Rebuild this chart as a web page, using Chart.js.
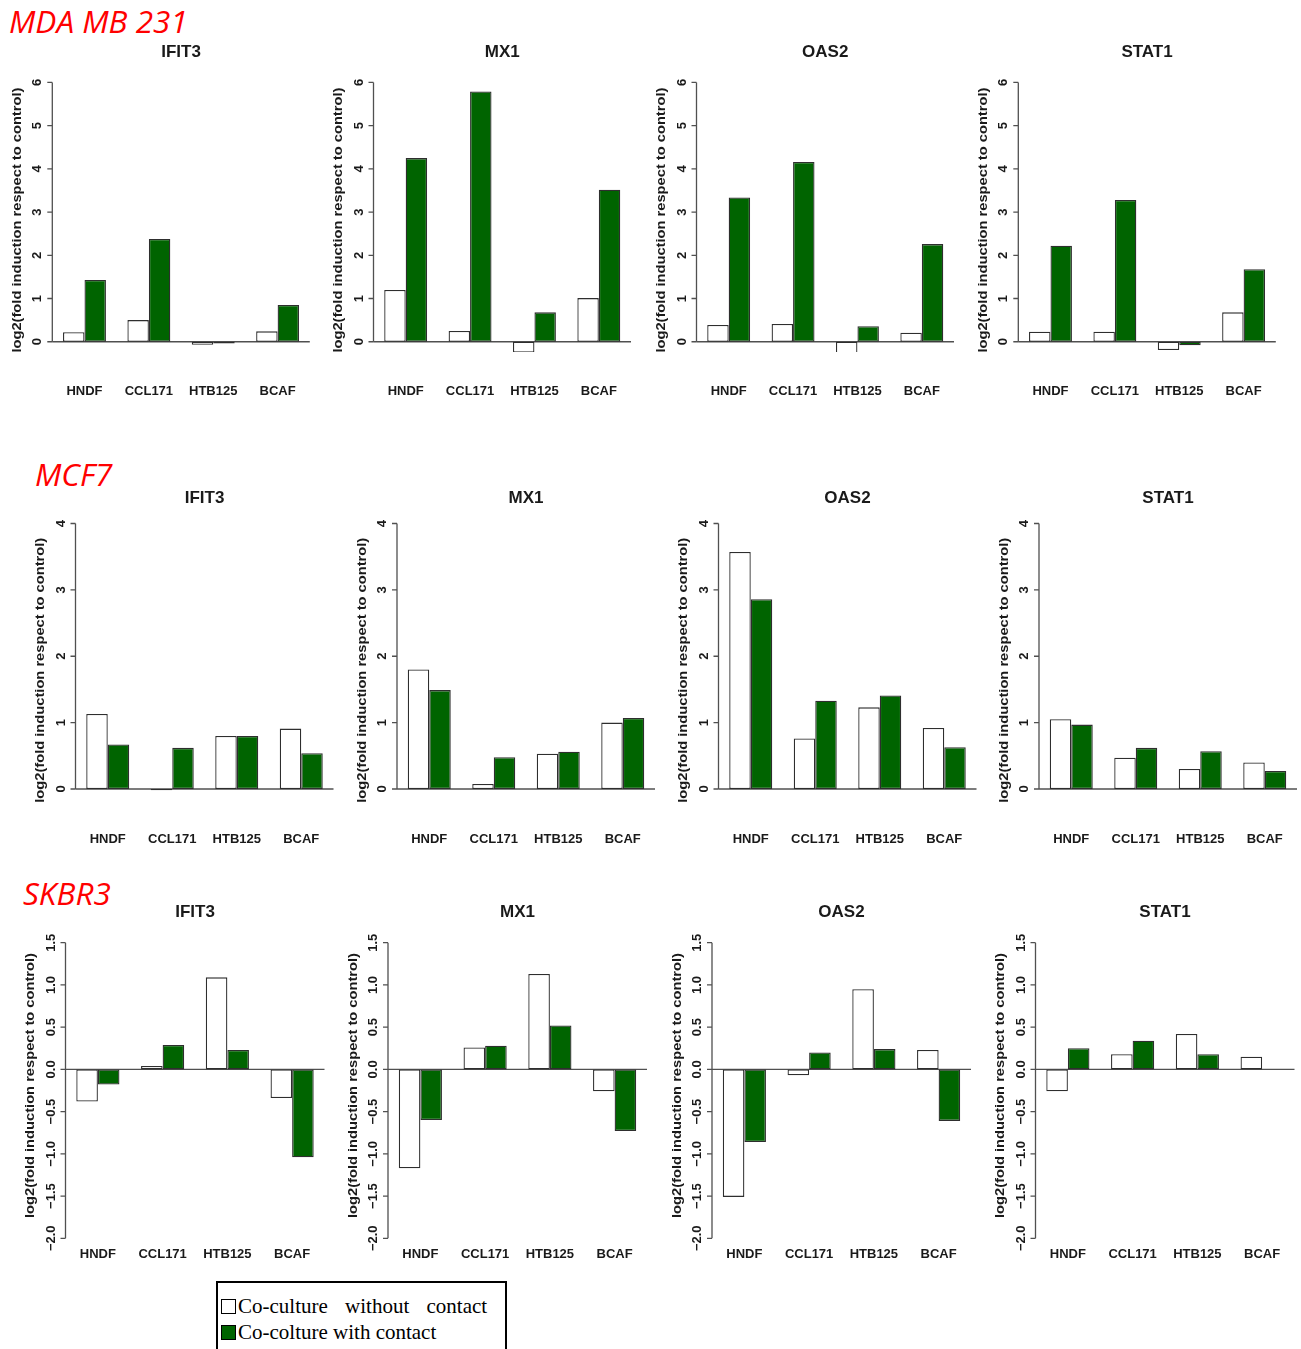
<!DOCTYPE html>
<html>
<head>
<meta charset="utf-8">
<title>Interferon-stimulated gene induction in breast cancer cell lines</title>
<script src="https://cdn.jsdelivr.net/npm/chart.js@4.4.1/dist/chart.umd.min.js"></script>
<style>
  html, body { margin: 0; padding: 0; background: #ffffff; }
  body { width: 1301px; height: 1349px; position: relative; overflow: hidden; }
  canvas { position: absolute; }
  .cell-line {
    position: absolute; white-space: nowrap; color: #ff0000;
    font-family: "Open Sans", sans-serif; font-style: italic;
    font-size: 31.5px; line-height: 31.5px;
  }
  #legend-box {
    position: absolute; left: 216px; top: 1281px; width: 291px; height: 120px;
    border: 2px solid #000; box-sizing: border-box;
  }
  .swatch { position: absolute; width: 15px; height: 15px; box-sizing: border-box; border: 1.5px solid #000; }
  .leg-text {
    position: absolute; white-space: pre; color: #000;
    font-family: "Liberation Serif", "Times New Roman", serif;
    font-size: 21px; line-height: 21px;
  }
</style>
</head>
<body>
<div class="cell-line" style="left:9px; top:5px;">MDA MB 231</div>
<div class="cell-line" style="left:35px; top:458px;">MCF7</div>
<div class="cell-line" style="left:23px; top:877px;">SKBR3</div>

<div id="legend-box"></div>
<div class="swatch" style="left:221px; top:1299px; background:#ffffff;"></div>
<div class="swatch" style="left:221px; top:1325px; background:#006400;"></div>
<div class="leg-text" id="leg0" style="left:238px; top:1295.7px; word-spacing:12px;"></div>
<div class="leg-text" id="leg1" style="left:238px; top:1322.4px;"></div>

<script>
// ---- categories and labels ----
const categories = ['HNDF', 'CCL171', 'HTB125', 'BCAF'];
const genes = ['IFIT3', 'MX1', 'OAS2', 'STAT1'];
const cellLines = ['MDA MB 231', 'MCF7', 'SKBR3'];
const seriesNames = ['Co-culture without contact', 'Co-colture with contact'];
const yAxisTitle = 'log2(fold induction respect to control)';

// ---- MDA MB 231: log2 fold induction ----
const mdaIFIT3Without = [0.22, 0.50, -0.07, 0.24];
const mdaIFIT3With    = [1.43, 2.38, -0.04, 0.85];
const mdaMX1Without   = [1.20, 0.25, -0.25, 1.01];
const mdaMX1With      = [4.25, 5.79, 0.68, 3.52];
const mdaOAS2Without  = [0.39, 0.41, -0.27, 0.21];
const mdaOAS2With     = [3.34, 4.16, 0.36, 2.26];
const mdaSTAT1Without = [0.23, 0.23, -0.19, 0.68];
const mdaSTAT1With    = [2.22, 3.28, -0.08, 1.68];

// ---- MCF7 ----
const mcf7IFIT3Without = [1.13, -0.02, 0.80, 0.91];
const mcf7IFIT3With    = [0.67, 0.62, 0.80, 0.54];
const mcf7MX1Without   = [1.80, 0.075, 0.53, 1.00];
const mcf7MX1With      = [1.49, 0.48, 0.56, 1.07];
const mcf7OAS2Without  = [3.57, 0.76, 1.23, 0.92];
const mcf7OAS2With     = [2.86, 1.33, 1.41, 0.63];
const mcf7STAT1Without = [1.05, 0.47, 0.30, 0.40];
const mcf7STAT1With    = [0.97, 0.62, 0.57, 0.27];

// ---- SKBR3 ----
const skbr3IFIT3Without = [-0.38, 0.04, 1.09, -0.34];
const skbr3IFIT3With    = [-0.18, 0.29, 0.23, -1.04];
const skbr3MX1Without   = [-1.17, 0.26, 1.13, -0.26];
const skbr3MX1With      = [-0.60, 0.28, 0.52, -0.73];
const skbr3OAS2Without  = [-1.51, -0.07, 0.95, 0.23];
const skbr3OAS2With     = [-0.86, 0.20, 0.24, -0.61];
const skbr3STAT1Without = [-0.26, 0.18, 0.42, 0.15];
const skbr3STAT1With    = [0.25, 0.34, 0.18, 0.00];

// ---- y axis ticks ----
const ticksMDA = [0, 1, 2, 3, 4, 5, 6];
const tickLabelsMDA = ['0', '1', '2', '3', '4', '5', '6'];
const ticksMCF7 = [0, 1, 2, 3, 4];
const tickLabelsMCF7 = ['0', '1', '2', '3', '4'];
const ticksSKBR3 = [-2.0, -1.5, -1.0, -0.5, 0.0, 0.5, 1.0, 1.5];
const tickLabelsSKBR3 = ['\u22122.0', '\u22121.5', '\u22121.0', '\u22120.5', '0.0', '0.5', '1.0', '1.5'];

// ---- grouping of the series per row ----
const rowSeries = [
  { without: [mdaIFIT3Without, mdaMX1Without, mdaOAS2Without, mdaSTAT1Without],
    with:    [mdaIFIT3With, mdaMX1With, mdaOAS2With, mdaSTAT1With],
    ticks: ticksMDA, tickLabels: tickLabelsMDA },
  { without: [mcf7IFIT3Without, mcf7MX1Without, mcf7OAS2Without, mcf7STAT1Without],
    with:    [mcf7IFIT3With, mcf7MX1With, mcf7OAS2With, mcf7STAT1With],
    ticks: ticksMCF7, tickLabels: tickLabelsMCF7 },
  { without: [skbr3IFIT3Without, skbr3MX1Without, skbr3OAS2Without, skbr3STAT1Without],
    with:    [skbr3IFIT3With, skbr3MX1With, skbr3OAS2With, skbr3STAT1With],
    ticks: ticksSKBR3, tickLabels: tickLabelsSKBR3 }
];

// ---- page geometry for each row of panels (pixels) ----
const rowGeometry = [
  { axisX: [52.3, 373.5, 696.5, 1018.3], plotW: 257.5, plotTop: 72.1, plotBottom: 352.1,
    yPad: 0.24, titleBase: 57.3, catBase: 395, yTitleDy: 8, canvasTop: 35, canvasBottom: 402 },
  { axisX: [75.5, 397, 718.5, 1039], plotW: 258, plotTop: 512.9, plotBottom: 799.6,
    yPad: 0.16, titleBase: 503.3, catBase: 842.7, yTitleDy: 14, canvasTop: 481, canvasBottom: 850 },
  { axisX: [65.5, 388, 712, 1035.5], plotW: 259, plotTop: 930.9, plotBottom: 1250.1,
    yPad: 0.14, titleBase: 916.7, catBase: 1258.3, yTitleDy: -5, canvasTop: 894, canvasBottom: 1266 }
];

const FONT = '"Liberation Sans", Arial, sans-serif';
const AXIS_COLOR = '#505050';
const TEXT_COLOR = '#1a1a1a';
const Y_TITLE_LENGTH = 265;

// Draws R-style axes: zero line, y axis spanning the tick range, rotated tick labels,
// rotated axis title, panel title and category names.
const panelDecor = {
  id: 'panelDecor',
  beforeDatasetsDraw(chart, args, o) {
    const { ctx, chartArea: a, scales: { y } } = chart;
    const y0 = y.getPixelForValue(0);
    ctx.save();
    ctx.strokeStyle = AXIS_COLOR;
    ctx.lineWidth = 1.3;
    ctx.beginPath();
    ctx.moveTo(a.left, y0);
    ctx.lineTo(a.right, y0);
    ctx.stroke();
    ctx.restore();
  },
  afterDraw(chart, args, o) {
    const { ctx, chartArea: a, scales: { x, y } } = chart;
    const t = o.ticks;
    const ax = a.left;
    ctx.save();
    ctx.strokeStyle = AXIS_COLOR;
    ctx.lineWidth = 1.3;
    ctx.beginPath();
    ctx.moveTo(ax, y.getPixelForValue(t[0]));
    ctx.lineTo(ax, y.getPixelForValue(t[t.length - 1]));
    t.forEach(v => {
      const py = y.getPixelForValue(v);
      ctx.moveTo(ax, py);
      ctx.lineTo(ax - 5, py);
    });
    ctx.stroke();

    ctx.fillStyle = TEXT_COLOR;
    ctx.textAlign = 'center';
    ctx.textBaseline = 'middle';
    ctx.font = 'bold 13px ' + FONT;
    t.forEach((v, i) => {
      ctx.save();
      ctx.translate(ax - 14.5, y.getPixelForValue(v));
      ctx.rotate(-Math.PI / 2);
      ctx.fillText(o.tickLabels[i], 0, 0);
      ctx.restore();
    });

    ctx.font = 'bold 13.5px ' + FONT;
    const w = ctx.measureText(o.yTitle).width;
    ctx.save();
    ctx.translate(ax - 35, (a.top + a.bottom) / 2 + o.yTitleDy);
    ctx.rotate(-Math.PI / 2);
    ctx.scale(Y_TITLE_LENGTH / w, 1);
    ctx.fillText(o.yTitle, 0, 0);
    ctx.restore();

    ctx.textBaseline = 'alphabetic';
    ctx.font = 'bold 17px ' + FONT;
    ctx.fillText(o.title, (a.left + a.right) / 2, o.titleBase);

    ctx.font = 'bold 13px ' + FONT;
    chart.data.labels.forEach((lab, i) => {
      ctx.fillText(lab, x.getPixelForValue(i), o.catBase);
    });
    ctx.restore();
  }
};

rowSeries.forEach((rs, r) => {
  const g = rowGeometry[r];
  const yMin = rs.ticks[0] - g.yPad;
  const yMax = rs.ticks[rs.ticks.length - 1] + g.yPad;
  genes.forEach((gene, c) => {
    const left = Math.floor(g.axisX[c]) - 50;
    const width = Math.min(1301 - left, Math.ceil(g.plotW) + 56);
    const height = g.canvasBottom - g.canvasTop;
    const canvas = document.createElement('canvas');
    canvas.width = width;
    canvas.height = height;
    canvas.style.left = left + 'px';
    canvas.style.top = g.canvasTop + 'px';
    canvas.style.width = width + 'px';
    canvas.style.height = height + 'px';
    document.body.appendChild(canvas);

    const padLeft = g.axisX[c] - left;
    new Chart(canvas, {
      type: 'bar',
      data: {
        labels: categories,
        datasets: [
          { label: seriesNames[0], data: rs.without[c], backgroundColor: '#ffffff',
            borderColor: '#2e2e2e', borderWidth: 1.3, borderSkipped: false,
            categoryPercentage: 2 / 3, barPercentage: 1 },
          { label: seriesNames[1], data: rs.with[c], backgroundColor: '#006400',
            borderColor: '#2e2e2e', borderWidth: 1.3, borderSkipped: false,
            categoryPercentage: 2 / 3, barPercentage: 1 }
        ]
      },
      options: {
        responsive: false,
        maintainAspectRatio: false,
        animation: false,
        devicePixelRatio: 1,
        layout: {
          padding: {
            left: padLeft,
            right: width - padLeft - g.plotW,
            top: g.plotTop - g.canvasTop,
            bottom: g.canvasBottom - g.plotBottom
          }
        },
        plugins: {
          legend: { display: false },
          tooltip: { enabled: false },
          panelDecor: {
            ticks: rs.ticks,
            tickLabels: rs.tickLabels,
            yTitle: yAxisTitle,
            yTitleDy: g.yTitleDy,
            title: gene,
            titleBase: g.titleBase - g.canvasTop,
            catBase: g.catBase - g.canvasTop
          }
        },
        scales: {
          x: { display: false, offset: true, grid: { display: false } },
          y: { display: false, min: yMin, max: yMax, grid: { display: false } }
        }
      },
      plugins: [panelDecor]
    });
  });
});

document.getElementById('leg0').textContent = seriesNames[0];
document.getElementById('leg1').textContent = seriesNames[1];
</script>
</body>
</html>
